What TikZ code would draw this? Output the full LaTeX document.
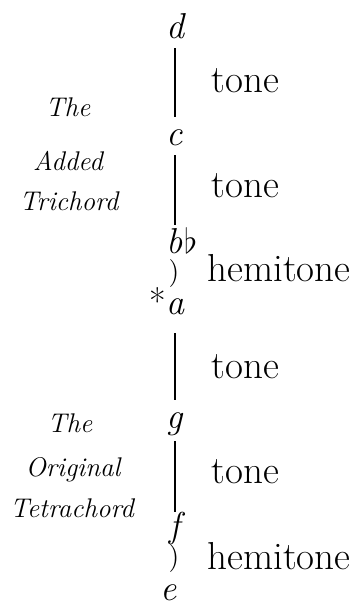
\documentclass[tikz,border=0pt]{standalone}
\usepackage{amsmath,amssymb}

\begin{document}
\begin{tikzpicture}[x=.5pt,y=-.5pt,
  note/.style={font=\fontsize{18}{18}\selectfont\itshape,inner sep=0pt,text height=9pt,text depth=0pt,anchor=base},
  interval/.style={font=\fontsize{19.5}{20}\selectfont,inner sep=0pt,anchor=base west},
  hemi/.style={font=\fontsize{14}{14}\selectfont,inner sep=0pt},
  side/.style={font=\fontsize{13.5}{14}\selectfont\itshape,inner sep=0pt,anchor=base},
  link/.style={line width=1pt,shorten <=5pt,shorten >=5pt}]
\useasboundingbox(0,0)rectangle(356,606);
% the notes
\node[note](d)at(175,38){d};
\node[note](c)at(175,145){c};
\node[note](bb)at(175,253){b\rlap{\kern.5pt$\flat$}};
\node[note](a)at(175,314){\llap{\upshape*}a};
\node[note](g)at(175,428){g};
\node[note](f)at(175,537){f};
\node[note](e)at(169,600){e};
% steps between them
\draw[link](d)--(c);
\draw[link](c)--(bb);
\draw[link,shorten <=9.5pt](a)--(g);
\draw[link,shorten <=6.5pt,shorten >=3.5pt](g)--(f);
\node[hemi](h1)at(174,274){)};
\node[hemi](h2)at(174,559){)};
% names of the steps
\node[interval](t1)at(211,92){tone};
\node[interval](t2)at(211,197){tone};
\node[interval](s1)at(207,281){hemitone};
\node[interval](t3)at(211,378){tone};
\node[interval](t4)at(211,483){tone};
\node[interval](s2)at(207,569){hemitone};
% the two groups
\node[side](tri1)at(68,116){The};
\node[side](tri2)at(68,170){Added};
\node[side](tri3)at(69,210){Trichord};
\node[side](tet1)at(70,432){The};
\node[side](tet2)at(73,476){Original};
\node[side](tet3)at(72,517){Tetrachord};
\end{tikzpicture}
\end{document}
